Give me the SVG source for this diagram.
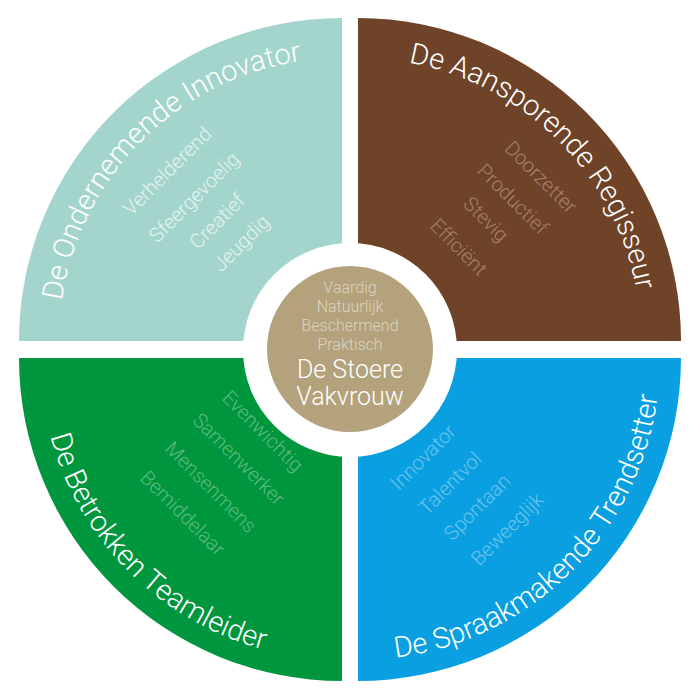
<svg xmlns="http://www.w3.org/2000/svg" width="700" height="700" viewBox="0 0 700 700">
<style>
.t{font-family:Roboto,"Liberation Sans",sans-serif;fill:#fff;font-size:29px;font-weight:300}
.i{font-family:Roboto,"Liberation Sans",sans-serif;font-size:20px;text-anchor:middle;font-weight:300}
.c{font-family:Roboto,"Liberation Sans",sans-serif;text-anchor:middle;font-weight:300}
</style>
<defs>
<path id="p1" d="M59,341 A283,283 0 0 1 342,58"/>
<path id="p2" d="M358,58 A283,283 0 0 1 641,341"/>
<path id="p3" d="M40,358 A302,302 0 0 0 342,660"/>
<path id="p4" d="M358,660 A302,302 0 0 0 660,358"/>
</defs>
<rect width="700" height="700" fill="#fff"/>
<g id="q1">
<path d="M342,341 L19,341 A323,323 0 0 1 342,18 Z" fill="#a3d5cd"/>
<text class="t"><textPath href="#p1" startOffset="50%" text-anchor="middle">De Ondernemende Innovator</textPath></text>
<g class="i" fill="#e6f3f0">
<text transform="translate(172,176) rotate(-45)">Verhelderend</text>
<text transform="translate(199,202) rotate(-45)">Sfeergevoelig</text>
<text transform="translate(222,226) rotate(-45)">Creatief</text>
<text transform="translate(246,248) rotate(-45)">Jeugdig</text>
</g>
</g>
<g id="q2">
<path d="M358,341 L358,18 A323,323 0 0 1 681,341 Z" fill="#6e4328"/>
<text class="t"><textPath href="#p2" startOffset="50%" text-anchor="middle">De Aansporende Regisseur</textPath></text>
<g class="i" fill="#a6806b">
<text transform="translate(536,182) rotate(45)">Doorzetter</text>
<text transform="translate(508,204) rotate(45)">Productief</text>
<text transform="translate(481,224) rotate(45)">Stevig</text>
<text transform="translate(454,252) rotate(45)">Efficiënt</text>
</g>
</g>
<g id="q3">
<path d="M342,358 L342,681 A323,323 0 0 1 19,358 Z" fill="#00963e"/>
<text class="t"><textPath href="#p3" startOffset="50%" text-anchor="middle">De Betrokken Teamleider</textPath></text>
<g class="i" fill="#5cbb7a">
<text transform="translate(258,436) rotate(45)">Evenwichtig</text>
<text transform="translate(234,464) rotate(45)">Samenwerker</text>
<text transform="translate(206,492) rotate(45)">Mensenmens</text>
<text transform="translate(178,518) rotate(45)">Bemiddelaar</text>
</g>
</g>
<g id="q4">
<path d="M358,358 L681,358 A323,323 0 0 1 358,681 Z" fill="#0a9fe0"/>
<text class="t"><textPath href="#p4" startOffset="50%" text-anchor="middle">De Spraakmakende Trendsetter</textPath></text>
<g class="i" fill="#6cc4ef">
<text transform="translate(428,462) rotate(-45)">Innovator</text>
<text transform="translate(455,488) rotate(-45)">Talentvol</text>
<text transform="translate(482,512) rotate(-45)">Spontaan</text>
<text transform="translate(512,534) rotate(-45)">Beweeglijk</text>
</g>
</g>
<g id="center">
<circle cx="350" cy="350" r="107" fill="#fff"/>
<circle cx="350" cy="349" r="83" fill="#b3a27b"/>
<g class="c" fill="#ddd4c2" font-size="16">
<text x="350" y="293">Vaardig</text>
<text x="350" y="312">Natuurlijk</text>
<text x="350" y="331">Beschermend</text>
<text x="350" y="350">Praktisch</text>
</g>
<g class="c" fill="#fff" font-size="25">
<text x="350" y="378">De Stoere</text>
<text x="350" y="405">Vakvrouw</text>
</g>
</g>
<g id="connectors"/>
</svg>
